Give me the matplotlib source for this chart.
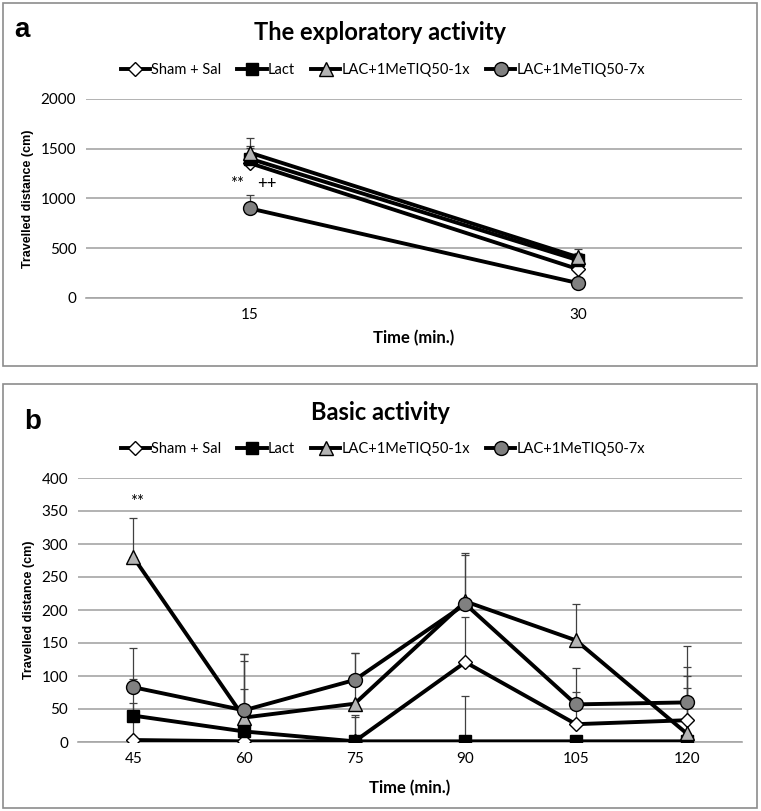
import numpy as np
import matplotlib
matplotlib.use('Agg')
import matplotlib.pyplot as plt
from matplotlib.patches import Rectangle

plt.rcParams['font.family'] = ['Lato', 'DejaVu Sans']

series = ['Sham + Sal', 'Lact', 'LAC+1MeTIQ50-1x', 'LAC+1MeTIQ50-7x']

# panel a: exploratory activity
times_a = ['15', '30']
mean_a = {
    'Sham + Sal':      [1355, 290],
    'Lact':            [1400, 380],
    'LAC+1MeTIQ50-1x': [1460, 410],
    'LAC+1MeTIQ50-7x': [900, 150],
}
err_a = {
    'Sham + Sal':      [150, 0],
    'Lact':            [130, 70],
    'LAC+1MeTIQ50-1x': [145, 80],
    'LAC+1MeTIQ50-7x': [140, 0],
}

# panel b: basic activity
times_b = ['45', '60', '75', '90', '105', '120']
mean_b = {
    'Sham + Sal':      [3, 1, 1, 121, 27, 33],
    'Lact':            [40, 16, 1, 1, 1, 1],
    'LAC+1MeTIQ50-1x': [280, 37, 58, 213, 154, 13],
    'LAC+1MeTIQ50-7x': [83, 48, 94, 209, 57, 60],
}
err_b = {
    'Sham + Sal':      [56, 80, 37, 69, 49, 80],
    'Lact':            [56, 107, 40, 68, 0, 99],
    'LAC+1MeTIQ50-1x': [60, 97, 77, 70, 55, 69],
    'LAC+1MeTIQ50-7x': [60, 85, 41, 78, 55, 86],
}

styles = {
    'Sham + Sal':      dict(marker='D', mfc='white', ms=7),
    'Lact':            dict(marker='s', mfc='black', ms=8.5),
    'LAC+1MeTIQ50-1x': dict(marker='^', mfc='#b4b4b4', ms=9.5),
    'LAC+1MeTIQ50-7x': dict(marker='o', mfc='#808080', ms=10),
}

W, H = 761, 811
fig = plt.figure(figsize=(W / 100, H / 100), dpi=100)

# panel borders
for y0, y1 in ((3, 366), (384, 808)):
    fig.patches.append(Rectangle((3 / W, 1 - y1 / H), 754 / W, (y1 - y0) / H,
                                 transform=fig.transFigure, fill=False,
                                 edgecolor='#8c8c8c', lw=1.2))


def panel(rect, cats, means, errs, ymax, ystep):
    ax = fig.add_axes(rect)
    x = np.arange(len(cats))
    for name in series:
        ax.errorbar(x, means[name], yerr=[np.zeros(len(cats)), errs[name]],
                    fmt='none', ecolor='#404040', elinewidth=0.9,
                    capsize=3, capthick=0.9, zorder=2)
    for name in series:
        ax.plot(x, means[name], color='black', lw=2.8, mec='black', mew=1,
                label=name, zorder=3, **styles[name])
    ax.set_xlim(-0.5, len(cats) - 0.5)
    ax.set_ylim(0, ymax)
    ax.set_yticks(np.arange(0, ymax + 1, ystep))
    ax.set_xticks(x)
    ax.set_xticklabels(cats)
    ax.grid(axis='y', color='#a6a6a6', lw=1.2)
    ax.set_axisbelow(True)
    for s in ('top', 'right', 'left'):
        ax.spines[s].set_visible(False)
    ax.spines['bottom'].set_color('#a6a6a6')
    ax.spines['bottom'].set_linewidth(1.2)
    ax.tick_params(length=0, labelsize=11, pad=7)
    ax.set_ylabel('Travelled distance (cm)', fontsize=9, fontweight='bold',
                  family=['Liberation Sans', 'DejaVu Sans'], labelpad=5)
    return ax


ax1 = panel([86 / W, 1 - 298 / H, 656 / W, 199 / H], times_a, mean_a, err_a, 2000, 500)
ax1.set_xlabel('Time (min.)', fontsize=12, fontweight='bold', labelpad=6)
ax1.text(-0.04, 1144, '**', ha='center', va='center', fontsize=12)
ax1.text(0.05, 1144, '++', ha='center', va='center', fontsize=12)

ax2 = panel([78 / W, 1 - 742 / H, 664 / W, 264 / H], times_b, mean_b, err_b, 400, 50)
ax2.set_xlabel('Time (min.)', fontsize=12, fontweight='bold', labelpad=10)
ax2.text(0.03, 363, '**', ha='center', va='center', fontsize=12)

for ax, ty, ly, lab, lx, lyy in ((ax1, 33, 70, 'a', 22, 30), (ax2, 412, 449, 'b', 33, 422)):
    fig.text(380 / W, 1 - ty / H, 'The exploratory activity' if lab == 'a' else 'Basic activity',
             ha='center', va='center', fontsize=17, fontweight='bold')
    fig.text(lx / W, 1 - lyy / H, lab, ha='center', va='center', fontsize=20,
             fontweight='bold', family=['Liberation Sans', 'DejaVu Sans'])
    h, l = ax.get_legend_handles_labels()
    fig.legend(h, l, loc='center', bbox_to_anchor=(383 / W, 1 - ly / H), ncol=4,
               frameon=False, fontsize=10.5, handlelength=2.0, handletextpad=0.1,
               columnspacing=1.1, borderpad=0)

fig.savefig('out.png', dpi=100)
